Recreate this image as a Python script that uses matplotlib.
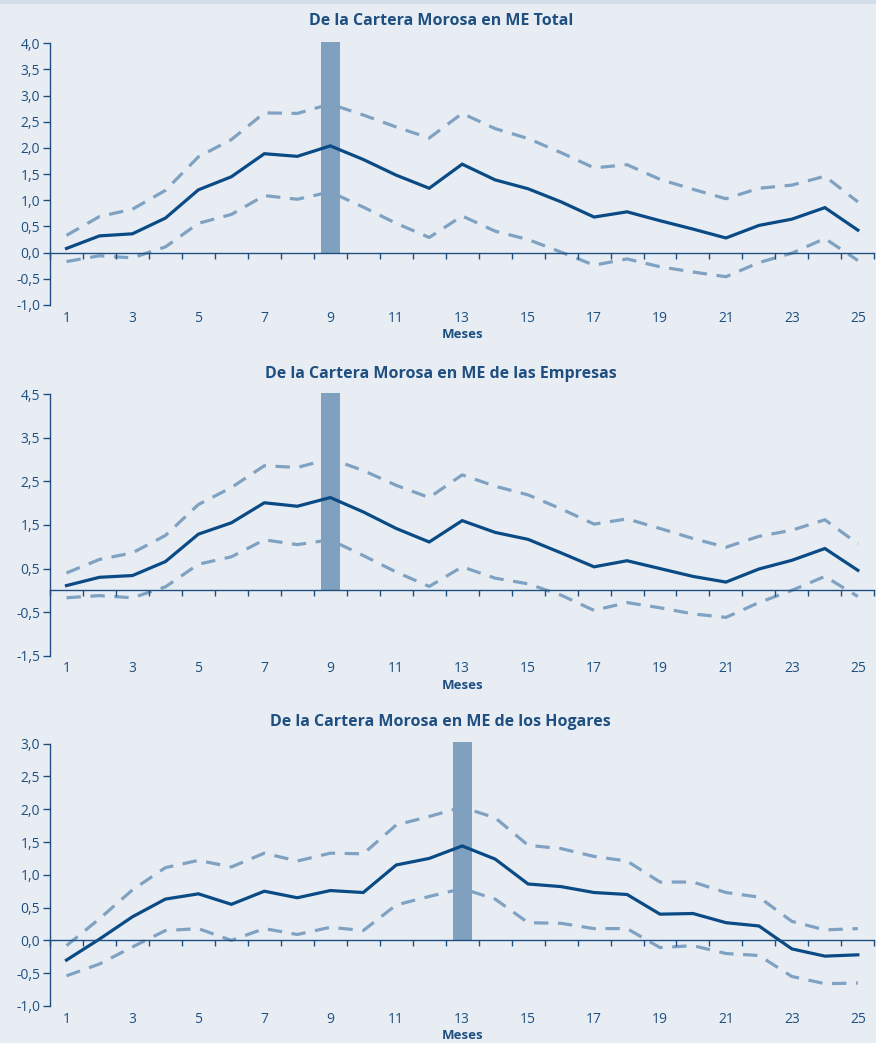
import matplotlib
matplotlib.use("Agg")
import matplotlib.pyplot as plt
from matplotlib.ticker import FuncFormatter

plt.rcParams['font.family'] = ['Open Sans', 'DejaVu Sans']

meses = list(range(1, 26))

titulos = ["De la Cartera Morosa en ME Total",
           "De la Cartera Morosa en ME de las Empresas",
           "De la Cartera Morosa en ME de los Hogares"]

total_c = [0.08, 0.32, 0.36, 0.66, 1.20, 1.45, 1.89, 1.84, 2.04, 1.78, 1.48, 1.23, 1.69,
           1.39, 1.22, 0.97, 0.68, 0.78, 0.61, 0.45, 0.28, 0.52, 0.64, 0.86, 0.43]
total_sup = [0.33, 0.69, 0.83, 1.19, 1.83, 2.16, 2.67, 2.66, 2.84, 2.63, 2.40, 2.19, 2.66,
             2.37, 2.18, 1.91, 1.62, 1.68, 1.40, 1.21, 1.03, 1.23, 1.29, 1.46, 0.97]
total_inf = [-0.17, -0.06, -0.10, 0.11, 0.56, 0.73, 1.09, 1.02, 1.16, 0.87, 0.56, 0.29, 0.70,
             0.41, 0.25, 0.01, -0.24, -0.12, -0.27, -0.37, -0.46, -0.19, -0.01, 0.27, -0.15]

emp_c = [0.11, 0.30, 0.34, 0.66, 1.29, 1.55, 2.01, 1.93, 2.13, 1.80, 1.42, 1.11, 1.60,
         1.33, 1.17, 0.86, 0.54, 0.68, 0.50, 0.32, 0.19, 0.49, 0.69, 0.96, 0.46]
emp_sup = [0.40, 0.71, 0.86, 1.26, 1.97, 2.36, 2.86, 2.82, 3.02, 2.75, 2.41, 2.13, 2.65,
           2.39, 2.19, 1.87, 1.52, 1.64, 1.42, 1.19, 0.99, 1.24, 1.38, 1.62, 1.07]
emp_inf = [-0.17, -0.12, -0.17, 0.08, 0.60, 0.77, 1.16, 1.05, 1.16, 0.80, 0.42, 0.09, 0.54,
           0.28, 0.15, -0.11, -0.46, -0.28, -0.40, -0.54, -0.62, -0.28, 0.00, 0.32, -0.14]

hog_c = [-0.30, 0.02, 0.36, 0.63, 0.71, 0.55, 0.75, 0.65, 0.76, 0.73, 1.15, 1.25, 1.44,
         1.24, 0.86, 0.82, 0.73, 0.70, 0.40, 0.41, 0.27, 0.22, -0.13, -0.24, -0.22]
hog_sup = [-0.08, 0.33, 0.77, 1.11, 1.22, 1.12, 1.33, 1.21, 1.33, 1.32, 1.76, 1.89, 2.03,
           1.87, 1.45, 1.40, 1.28, 1.21, 0.89, 0.89, 0.73, 0.66, 0.29, 0.16, 0.18]
hog_inf = [-0.54, -0.36, -0.10, 0.15, 0.18, 0.00, 0.18, 0.09, 0.20, 0.15, 0.54, 0.67, 0.79,
           0.63, 0.27, 0.26, 0.18, 0.18, -0.11, -0.08, -0.20, -0.23, -0.55, -0.66, -0.65]

mes_barra = [9, 9, 13]
ylims = [(-1.0, 4.0), (-1.5, 4.5), (-1.0, 3.0)]
yticks = [[-1.0, -0.5, 0.0, 0.5, 1.0, 1.5, 2.0, 2.5, 3.0, 3.5, 4.0],
          [-1.5, -0.5, 0.5, 1.5, 2.5, 3.5, 4.5],
          [-1.0, -0.5, 0.0, 0.5, 1.0, 1.5, 2.0, 2.5, 3.0]]
series = [(total_c, total_sup, total_inf), (emp_c, emp_sup, emp_inf), (hog_c, hog_sup, hog_inf)]

bg = '#E8EDF4'
azul = '#0A4A85'
azul_claro = '#7FA2C2'
texto = '#1F4F80'

fig = plt.figure(figsize=(8.76, 10.43), dpi=100, facecolor=bg)
fig.patches.append(plt.Rectangle((0, 1 - 3 / 1043), 1, 3 / 1043, transform=fig.transFigure,
                                 color='#D3DEE9', zorder=0))

posiciones = [(0.0571, 0.7076, 0.941, 0.2509),
              (0.0571, 0.3713, 0.941, 0.2507),
              (0.0571, 0.0355, 0.941, 0.2515)]
titulo_y = [0.980, 0.6415, 0.3075]

coma = FuncFormatter(lambda v, p: ("%.1f" % v).replace('.', ','))

for k in range(3):
    ax = fig.add_axes(posiciones[k])
    ax.set_facecolor(bg)
    c, sup, inf = series[k]
    ymin, ymax = ylims[k]
    ax.bar([mes_barra[k]], [ymax * 1.006], width=0.58, color='#7FA1BF', zorder=2, clip_on=False)
    ax.plot(meses, sup, color=azul_claro, lw=2.3, dashes=(4.5, 3), zorder=1)
    ax.plot(meses, inf, color=azul_claro, lw=2.3, dashes=(4.5, 3), zorder=1)
    ax.plot(meses, c, color=azul, lw=2.3, zorder=3, solid_joinstyle='miter')
    ax.set_xlim(0.5, 25.5)
    ax.set_ylim(ymin, ymax)
    ax.set_yticks(yticks[k])
    ax.yaxis.set_major_formatter(coma)
    for s in ['top', 'right']:
        ax.spines[s].set_visible(False)
    ax.spines['left'].set_color(texto)
    ax.spines['left'].set_linewidth(1.0)
    ax.spines['bottom'].set_position(('data', 0))
    ax.spines['bottom'].set_color(texto)
    ax.spines['bottom'].set_linewidth(1.0)
    ax.spines['bottom'].set_zorder(4)
    ax.set_xticks([m + 0.5 for m in range(0, 26)])
    ax.tick_params(axis='x', length=4, width=1, color=texto, labelbottom=False)
    ax.tick_params(axis='y', length=5, width=1, color=texto, labelcolor=texto,
                   labelsize=10, pad=2)
    sec = ax.secondary_xaxis(0)
    sec.set_xticks(meses[::2])
    sec.tick_params(length=0, labelcolor=texto, labelsize=10, pad=4)
    sec.spines['bottom'].set_visible(False)
    sec.set_xlabel("Meses", color=texto, fontsize=9.5, fontweight='bold', labelpad=2)
    fig.text(0.503, titulo_y[k], titulos[k], ha='center', va='center', color=texto,
             fontsize=11.5, fontweight='bold')

fig.savefig("out.png", dpi=100, facecolor=bg)
